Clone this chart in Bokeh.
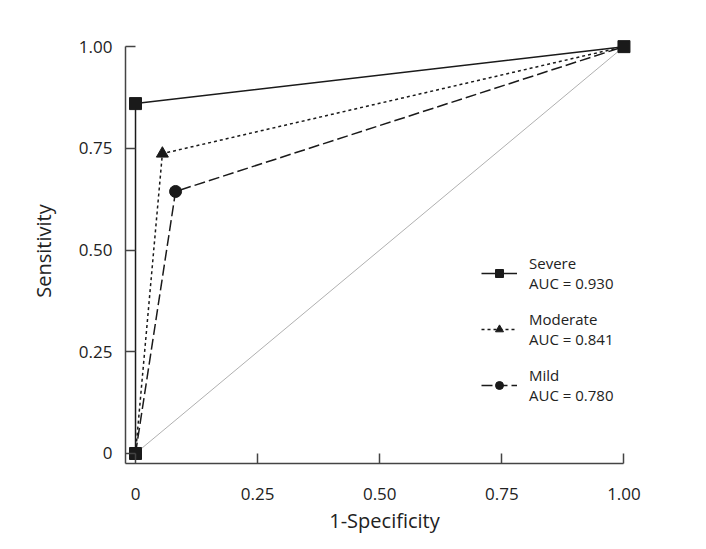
from bokeh.plotting import figure
from bokeh.models import Range1d, FixedTicker, Legend, LegendItem
from bokeh.embed import file_html
from bokeh.resources import INLINE

# Data (1-specificity, sensitivity)
severe_x = [0.0, 0.0, 1.0]
severe_y = [0.0, 0.86, 1.0]
moderate_x = [0.0, 0.055, 1.0]
moderate_y = [0.0, 0.737, 1.0]
mild_x = [0.0, 0.082, 1.0]
mild_y = [0.0, 0.644, 1.0]
ref_x = [0.0, 1.0]
ref_y = [0.0, 1.0]
labels = ["Severe\nAUC = 0.930", "Moderate\nAUC = 0.841", "Mild\nAUC = 0.780"]
ticks = [0.0, 0.25, 0.5, 0.75, 1.0]
tick_labels = ["0", "0.25", "0.50", "0.75", "1.00"]

FONT = "Open Sans"
W, H = 690, 541
p = figure(width=W, height=H, output_backend="svg", toolbar_location=None,
           x_range=Range1d(-0.0205, 1.04), y_range=Range1d(-0.0246, 1.02))
p.min_border_left = 125
p.min_border_right = 47
p.min_border_top = 38
p.min_border_bottom = 78
p.outline_line_color = None
p.grid.visible = False
p.background_fill_color = "white"

p.line(ref_x, ref_y, line_color="#b0b0b0", line_width=1)

r_mild_l = p.line(mild_x, mild_y, line_color="#1a1a1a", line_width=1.5, line_dash="11 4")
r_mod_l = p.line(moderate_x, moderate_y, line_color="#1a1a1a", line_width=1.5, line_dash="3 3")
r_sev_l = p.line(severe_x, severe_y, line_color="#1a1a1a", line_width=1.5)

r_mild_m = p.scatter(mild_x[1:2], mild_y[1:2], marker="circle", size=12, fill_color="#1a1a1a", line_color="#1a1a1a")
r_mod_m = p.scatter(moderate_x[1:2], moderate_y[1:2], marker="triangle", size=12, fill_color="#1a1a1a", line_color="#1a1a1a")
r_sev_m = p.scatter(severe_x, severe_y, marker="square", size=12, fill_color="#1a1a1a", line_color="#1a1a1a")

for ax, bnds in ((p.xaxis[0], (-0.0205, 1.0)), (p.yaxis[0], (-0.0246, 1.0))):
    ax.bounds = bnds
    ax.ticker = FixedTicker(ticks=ticks)
    ax.major_label_overrides = {t: l for t, l in zip(ticks, tick_labels)}
    ax.minor_tick_line_color = None
    ax.major_tick_in = 10
    ax.major_tick_out = 0
    ax.axis_line_color = "#444444"
    ax.axis_line_width = 1.5
    ax.major_tick_line_color = "#444444"
    ax.major_tick_line_width = 1.5
    ax.major_label_text_font = FONT
    ax.major_label_text_font_size = "17px"
    ax.major_label_text_color = "#222222"
    ax.axis_label_text_font = FONT
    ax.axis_label_text_font_size = "20px"
    ax.axis_label_text_font_style = "normal"
    ax.axis_label_text_color = "#222222"

p.xaxis.axis_label = "1-Specificity"
p.yaxis.axis_label = "Sensitivity"
p.xaxis.major_label_standoff = 24
p.xaxis.axis_label_standoff = 4
p.yaxis.major_label_standoff = 13
p.yaxis.axis_label_standoff = 19

legend = Legend(items=[
    LegendItem(label=labels[0], renderers=[r_sev_l, r_sev_m]),
    LegendItem(label=labels[1], renderers=[r_mod_l, r_mod_m]),
    LegendItem(label=labels[2], renderers=[r_mild_l, r_mild_m]),
], location=(356, 58))
legend.border_line_color = None
legend.background_fill_alpha = 0
legend.glyph_width = 36
legend.glyph_height = 20
legend.label_standoff = 12
legend.spacing = 16
legend.padding = 2
legend.margin = 0
legend.label_text_font = FONT
legend.label_text_font_size = "15px"
legend.label_text_color = "#222222"
legend.label_text_line_height = 1.3
p.add_layout(legend)

open("out.html", "w").write(file_html(p, INLINE))
